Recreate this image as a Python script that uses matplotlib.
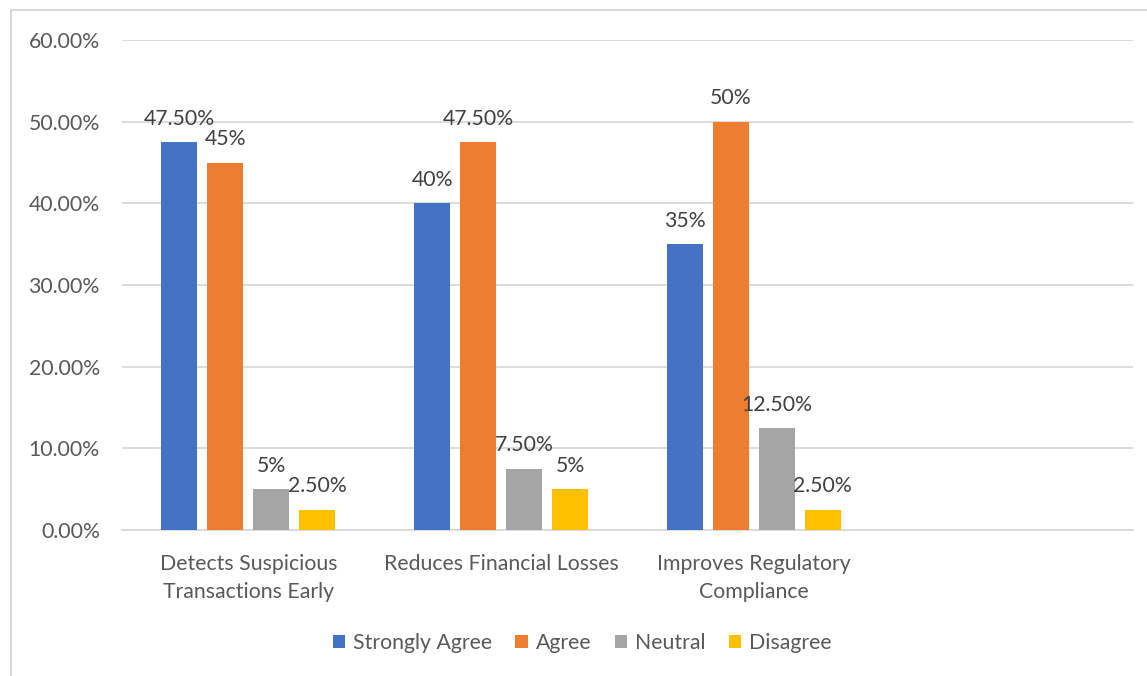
import numpy as np
import matplotlib.pyplot as plt
from matplotlib.patches import Rectangle

plt.rcParams['font.family'] = ['Lato', 'DejaVu Sans']

categories = ['Detects Suspicious\nTransactions Early', 'Reduces Financial Losses',
              'Improves Regulatory\nCompliance', '']
series = ['Strongly Agree', 'Agree', 'Neutral', 'Disagree']
strongly_agree = [47.5, 40.0, 35.0]
agree = [45.0, 47.5, 50.0]
neutral = [5.0, 7.5, 12.5]
disagree = [2.5, 5.0, 2.5]
value_labels = [
    ['47.50%', '40%', '35%'],
    ['45%', '47.50%', '50%'],
    ['5%', '7.50%', '12.50%'],
    ['2.50%', '5%', '2.50%'],
]
colors = ['#4472C4', '#ED7D31', '#A5A5A5', '#FFC000']
text_color = '#595959'
grid_color = '#D9D9D9'
fs = 15.3

fig = plt.figure(figsize=(11.47, 6.76), dpi=100)
ax = fig.add_axes([122 / 1147, 146 / 676, (1133 - 122) / 1147, 490 / 676])

# outer chart border
fig.patches.append(Rectangle((11 / 1147, 1 / 676 - 0.01), 1.1, (665 / 676) + 0.01,
                            transform=fig.transFigure, fill=False,
                            edgecolor=grid_color, linewidth=1.5))

x = np.arange(3)
bar_w = 36 / 252.75
step = 46 / 252.75
offsets = (np.arange(4) - 1.5) * step
data = [strongly_agree, agree, neutral, disagree]

for i, (name, vals) in enumerate(zip(series, data)):
    bars = ax.bar(x + offsets[i], vals, width=bar_w, color=colors[i], label=name, zorder=3)
    for b, lab in zip(bars, value_labels[i]):
        ax.annotate(lab, (b.get_x() + b.get_width() / 2, b.get_height()),
                    xytext=(0, 12.5), textcoords='offset points',
                    ha='center', va='baseline', fontsize=fs, color='#404040')

ax.set_xlim(-0.5, 3.5)
ax.set_ylim(0, 60)
ax.set_yticks(np.arange(0, 61, 10))
ax.set_yticklabels([f'{v:.2f}%' for v in np.arange(0, 61, 10)])
ax.set_xticks(np.arange(4))
ax.set_xticklabels(categories, linespacing=1.45)
ax.tick_params(axis='both', length=0, labelsize=fs, labelcolor=text_color)
ax.tick_params(axis='y', pad=16)
ax.tick_params(axis='x', pad=17.5)
ax.grid(axis='y', color=grid_color, linewidth=1.3, zorder=0)
for s in ['top', 'right', 'left']:
    ax.spines[s].set_visible(False)
ax.spines['bottom'].set_color(grid_color)
ax.spines['bottom'].set_linewidth(1.3)

fig.legend(loc='center', bbox_to_anchor=(582 / 1147, 33 / 676), ncol=4, frameon=False,
           fontsize=fs, labelcolor=text_color, handlelength=0.6, handleheight=0.6,
           handletextpad=0.35, columnspacing=1.1)

fig.savefig('out.png', dpi=100)
